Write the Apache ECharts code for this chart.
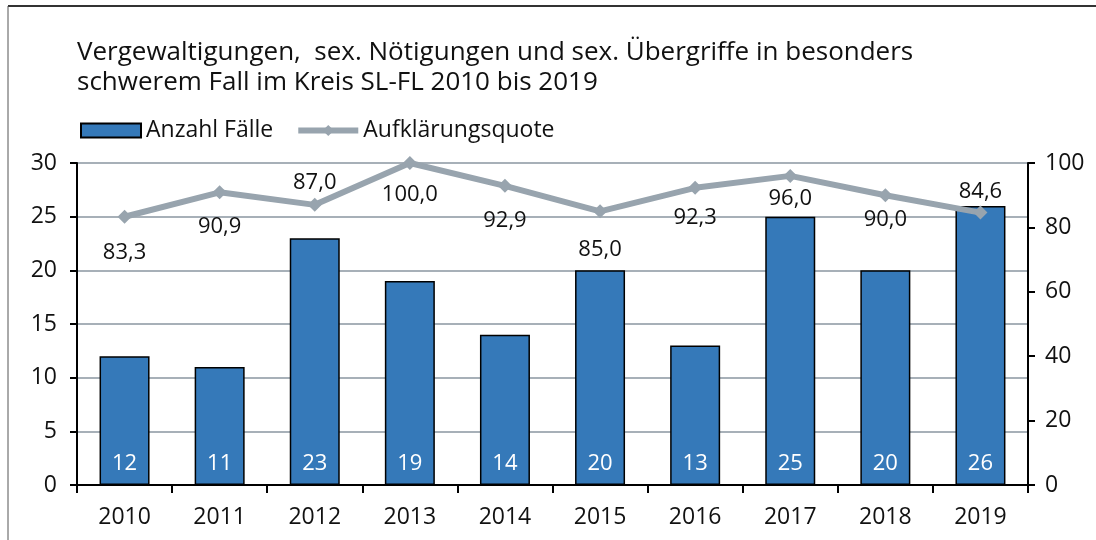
<!DOCTYPE html>
<html>
<head>
<meta charset="utf-8">
<script src="https://cdn.jsdelivr.net/npm/echarts@6/dist/echarts.min.js"></script>
<style>
  html, body { margin: 0; padding: 0; background: #fff; }
  #chart { width: 1096px; height: 540px; }
</style>
</head>
<body>
<div id="chart"></div>
<script>
const years = ['2010', '2011', '2012', '2013', '2014', '2015', '2016', '2017', '2018', '2019'];
const cases = [12, 11, 23, 19, 14, 20, 13, 25, 20, 26];
const quote = [83.3, 90.9, 87.0, 100.0, 92.9, 85.0, 92.3, 96.0, 90.0, 84.6];
// where the quote label sits relative to its point
const quotePos = ['bottom', 'bottom', 'top', 'bottom', 'bottom', 'bottom', 'bottom', 'bottom', 'bottom', 'top'];
const quoteGap = [18, 16, 4, 14, 17, 20, 12, 5, 7, 3];

const font = '"Open Sans", sans-serif';
const chart = echarts.init(document.getElementById('chart'));

const fmt = v => v.toFixed(1).replace('.', ',');

chart.setOption({
    animation: false,
    textStyle: { fontFamily: font },
    title: {
        text: 'Vergewaltigungen,  sex. Nötigungen und sex. Übergriffe in besonders\nschwerem Fall im Kreis SL-FL 2010 bis 2019',
        left: 72,
        top: 33,
        textStyle: { fontFamily: font, fontSize: 26, fontWeight: 'normal', color: '#111', lineHeight: 30 }
    },
    legend: {
        left: 75,
        top: 114,
        itemGap: 22,
        itemWidth: 60,
        itemHeight: 14,
        textStyle: { fontFamily: font, fontSize: 23, color: '#111' },
        data: [
            { name: 'Anzahl Fälle', icon: 'rect' },
            { name: 'Aufklärungsquote', lineStyle: { width: 6 } }
        ]
    },
    grid: { left: 77, right: 68, top: 163, bottom: 55 },
    xAxis: {
        type: 'category',
        data: years,
        axisLine: { lineStyle: { color: '#000', width: 2 } },
        axisTick: { show: true, length: 8, lineStyle: { color: '#000', width: 2 } },
        axisLabel: { fontFamily: font, fontSize: 23, color: '#111', margin: 21 }
    },
    yAxis: [
        {
            type: 'value', min: 0, max: 30, interval: 5,
            axisLine: { show: true, lineStyle: { color: '#000', width: 2 } },
            axisTick: { show: true, length: 7, lineStyle: { color: '#000', width: 2 } },
            axisLabel: { fontFamily: font, fontSize: 23, color: '#111', margin: 20 },
            splitLine: { lineStyle: { color: '#a7b0b8', width: 2 } }
        },
        {
            type: 'value', min: 0, max: 100, interval: 20,
            axisLine: { show: true, lineStyle: { color: '#000', width: 2 } },
            axisTick: { show: true, length: 7, lineStyle: { color: '#000', width: 2 } },
            axisLabel: { fontFamily: font, fontSize: 23, color: '#111', margin: 17 },
            splitLine: { show: false }
        }
    ],
    series: [
        {
            name: 'Anzahl Fälle',
            type: 'bar',
            data: cases,
            barWidth: 50,
            itemStyle: { color: '#3579b9', borderColor: '#000', borderWidth: 1.5 },
            label: {
                show: true, position: 'insideBottom', distance: 10,
                color: '#fff', fontFamily: font, fontSize: 22
            },
            z: 2
        },
        {
            name: 'Aufklärungsquote',
            type: 'line',
            yAxisIndex: 1,
            data: quote.map((v, i) => ({
                value: v,
                label: { position: quotePos[i], distance: quoteGap[i] }
            })),
            symbol: 'diamond',
            symbolSize: 14,
            lineStyle: { color: '#98a4ae', width: 6 },
            itemStyle: { color: '#98a4ae' },
            label: {
                show: true, color: '#111', fontFamily: font, fontSize: 22,
                formatter: p => fmt(p.value)
            },
            z: 3
        }
    ],
    graphic: [
        { type: 'line', shape: { x1: 8, y1: 6, x2: 1096, y2: 6 }, style: { stroke: '#333', lineWidth: 2 } },
        { type: 'line', shape: { x1: 8, y1: 6, x2: 8, y2: 540 }, style: { stroke: '#555', lineWidth: 1 } }
    ]
});
</script>
</body>
</html>
